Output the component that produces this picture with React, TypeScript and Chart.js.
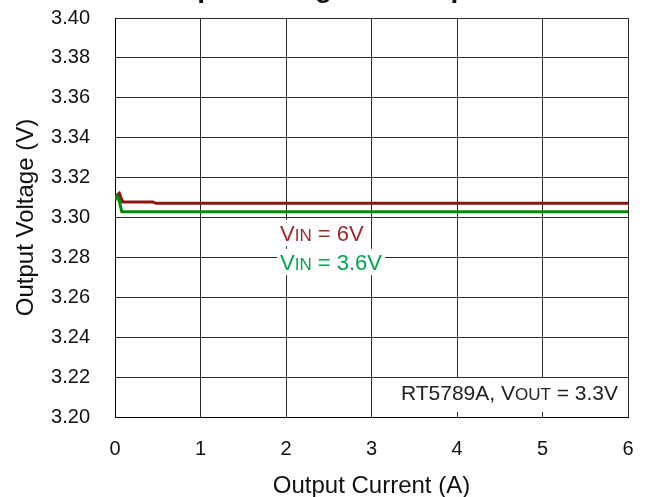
import React, { useEffect, useRef } from 'react';
import { Chart, registerables } from 'chart.js';

Chart.register(...registerables);

// ---- data ----
const currentVin36 = [0, 0.02, 0.04, 0.08, 6];
const voltageVin36 = [3.309, 3.3108, 3.31, 3.3029, 3.3029];
const currentVin6 = [0, 0.02, 0.05, 0.09, 0.44, 0.48, 6];
const voltageVin6 = [3.3086, 3.311, 3.3121, 3.3078, 3.3078, 3.3071, 3.3071];
const xTicks = [0, 1, 2, 3, 4, 5, 6];
const yTicks = [3.2, 3.22, 3.24, 3.26, 3.28, 3.3, 3.32, 3.34, 3.36, 3.38, 3.4];
const titleText = 'Output Voltage vs. Output Current';
const xTitle = 'Output Current (A)';
const yTitle = 'Output Voltage (V)';
const label6 = [['V', false], ['IN', true], [' = 6V', false]] as [string, boolean][];
const label36 = [['V', false], ['IN', true], [' = 3.6V', false]] as [string, boolean][];
const noteLabel = [['RT5789A, V', false], ['OUT', true], [' = 3.3V', false]] as [string, boolean][];

const FAMILY = '"Liberation Sans", Arial, sans-serif';
const RED_LINE = '#8B1414';
const GREEN_LINE = '#008A00';
const RED_TEXT = '#A0282D';
const GREEN_TEXT = '#00A550';

function partsWidth(ctx: CanvasRenderingContext2D, parts: [string, boolean][], big: number, small: number) {
  let w = 0;
  for (const [t, sub] of parts) {
    ctx.font = `${sub ? small : big}px ${FAMILY}`;
    w += ctx.measureText(t).width;
  }
  return w;
}

function drawParts(
  ctx: CanvasRenderingContext2D,
  parts: [string, boolean][],
  x: number,
  yMid: number,
  big: number,
  small: number,
  color: string,
  align: 'left' | 'right',
  bg: boolean
) {
  const w = partsWidth(ctx, parts, big, small);
  let sx = align === 'left' ? x : x - w;
  if (bg) {
    ctx.fillStyle = '#ffffff';
    ctx.fillRect(sx - 3, yMid - big * 0.6, w + 6, big * 1.2);
  }
  const baseline = yMid + big * 0.36;
  ctx.textBaseline = 'alphabetic';
  ctx.textAlign = 'left';
  ctx.fillStyle = color;
  for (const [t, sub] of parts) {
    ctx.font = `${sub ? small : big}px ${FAMILY}`;
    ctx.fillText(t, sx, baseline);
    sx += ctx.measureText(t).width;
  }
}

const annotationPlugin = {
  id: 'annotations',
  afterDraw(chart: any) {
    const ctx: CanvasRenderingContext2D = chart.ctx;
    const area = chart.chartArea;
    const xs = chart.scales.x;
    const ys = chart.scales.y;
    ctx.save();
    // series labels
    drawParts(ctx, label6, xs.getPixelForValue(1.93), ys.getPixelForValue(3.2922), 22, 17, RED_TEXT, 'left', true);
    drawParts(ctx, label36, xs.getPixelForValue(1.93), ys.getPixelForValue(3.2777), 22, 17, GREEN_TEXT, 'left', true);
    // note box
    ctx.fillStyle = '#ffffff';
    ctx.fillRect(area.right - 232, area.bottom - 39, 231, 34);
    drawParts(ctx, noteLabel, area.right - 10, area.bottom - 25, 21, 17, '#222222', 'right', false);
    // cut-off title
    ctx.font = `bold 28px ${FAMILY}`;
    ctx.fillStyle = '#111111';
    ctx.textAlign = 'center';
    ctx.textBaseline = 'alphabetic';
    ctx.fillText(titleText, 376, -3);
    ctx.restore();
  },
};

export default function App() {
  const ref = useRef<HTMLCanvasElement | null>(null);
  useEffect(() => {
    if (!ref.current) return;
    const chart = new Chart(ref.current, {
      type: 'line',
      data: {
        datasets: [
          {
            label: 'VIN = 3.6V',
            data: currentVin36.map((x, i) => ({ x, y: voltageVin36[i] })),
            borderColor: GREEN_LINE,
            backgroundColor: GREEN_LINE,
            borderWidth: 3,
            pointRadius: 0,
            tension: 0,
          },
          {
            label: 'VIN = 6V',
            data: currentVin6.map((x, i) => ({ x, y: voltageVin6[i] })),
            borderColor: RED_LINE,
            backgroundColor: RED_LINE,
            borderWidth: 3,
            pointRadius: 0,
            tension: 0,
          },
        ],
      },
      options: {
        animation: false,
        responsive: false,
        maintainAspectRatio: false,
        layout: { padding: { top: 18, right: 19, left: 0, bottom: 0 } },
        plugins: {
          legend: { display: false },
          title: { display: false },
          tooltip: { enabled: false },
        },
        scales: {
          x: {
            type: 'linear',
            min: 0,
            max: 6,
            afterBuildTicks: (s: any) => {
              s.ticks = xTicks.map((v) => ({ value: v }));
            },
            afterFit: (s: any) => {
              s.height = 80;
              s.paddingLeft = 0;
              s.paddingRight = 0;
              s.paddingTop = 0;
              s.paddingBottom = 0;
            },
            grid: { color: '#2a2a2a', lineWidth: 1, drawTicks: false },
            border: { color: '#000000', width: 1 },
            ticks: {
              padding: 20,
              color: '#111111',
              font: { family: FAMILY, size: 20 },
              callback: (v: any) => String(v),
            },
            title: {
              display: true,
              text: xTitle,
              color: '#111111',
              font: { family: FAMILY, size: 24 },
              padding: { top: 0, bottom: -4 },
            },
          },
          y: {
            type: 'linear',
            min: 3.2,
            max: 3.4,
            afterBuildTicks: (s: any) => {
              s.ticks = yTicks.map((v) => ({ value: v }));
            },
            afterFit: (s: any) => {
              s.width = 115;
              s.paddingLeft = 0;
              s.paddingRight = 0;
              s.paddingTop = 0;
              s.paddingBottom = 0;
            },
            grid: { color: '#2a2a2a', lineWidth: 1, drawTicks: false },
            border: { color: '#000000', width: 1 },
            ticks: {
              padding: 25,
              color: '#111111',
              font: { family: FAMILY, size: 20 },
              callback: (v: any) => Number(v).toFixed(2),
            },
            title: {
              display: true,
              text: yTitle,
              color: '#111111',
              font: { family: FAMILY, size: 24 },
              padding: { top: 12, bottom: 0 },
            },
          },
        },
      },
      plugins: [annotationPlugin],
    } as any);
    return () => chart.destroy();
  }, []);
  return (
    <div style={{ position: 'absolute', left: 0, top: 0, width: 647, height: 497, background: '#fff' }}>
      <canvas ref={ref} width={647} height={497} style={{ width: 647, height: 497, display: 'block' }} />
    </div>
  );
}
